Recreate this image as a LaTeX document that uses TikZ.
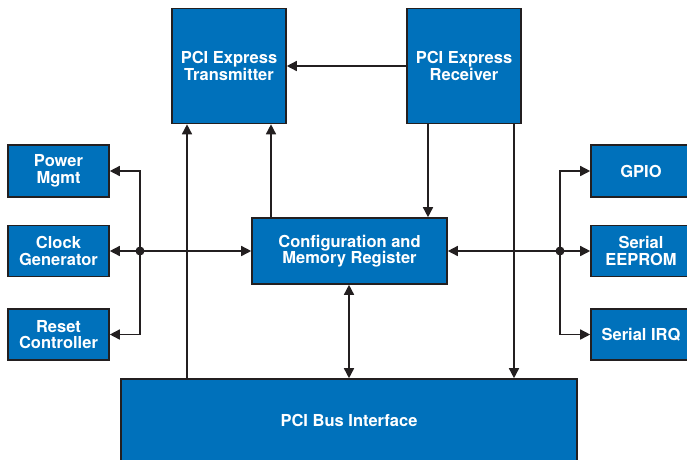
\documentclass[tikz,border=0pt]{standalone}
\usepackage{fontspec}
\setmainfont{TeX Gyre Heros}
\usetikzlibrary{arrows.meta}
\definecolor{boxblue}{HTML}{0071BB}
\definecolor{edge}{HTML}{231F20}
\tikzset{
  blk/.style={draw=edge, line width=1.6pt, fill=boxblue, text=white,
    font=\fontsize{16.5}{16.5}\selectfont\bfseries, align=center,
    inner sep=0pt},
  conn/.style={draw=edge, line width=1.5pt, -{Triangle[length=10pt,width=10pt]}},
  conn2/.style={draw=edge, line width=1.5pt, {Triangle[length=10pt,width=10pt]}-{Triangle[length=10pt,width=10pt]}},
}
\begin{document}
\begin{tikzpicture}[x=1pt,y=1pt]
\useasboundingbox (0,0) rectangle (687,-459);
\node[blk, minimum width=114pt, minimum height=115pt] (tx) at (229,-66) {PCI Express\\Transmitter};
\node[blk, minimum width=114pt, minimum height=115pt] (rx) at (464,-66) {PCI Express\\Receiver};
\node[blk, minimum width=101pt, minimum height=52pt] (pwr) at (58.5,-171) {Power\\Mgmt};
\node[blk, minimum width=101pt, minimum height=51pt] (clk) at (58.5,-251) {Clock\\Generator};
\node[blk, minimum width=101pt, minimum height=51pt] (rst) at (58.5,-334.5) {Reset\\Controller};
\node[blk, minimum width=195pt, minimum height=66pt] (cfg) at (349.5,-251) {Configuration and\\Memory Register};
\node[blk, minimum width=100pt, minimum height=52pt] (gpio) at (641,-171) {GPIO};
\node[blk, minimum width=100pt, minimum height=51pt] (eep) at (641,-251) {Serial\\EEPROM};
\node[blk, minimum width=100pt, minimum height=51pt] (irq) at (641,-334.5) {Serial IRQ};
\node[blk, minimum width=456pt, minimum height=82pt] (bus) at (349,-420) {PCI Bus Interface};
\coordinate (jl) at (140,-251);
\coordinate (jr) at (560,-251);
% connectors
\draw[conn] (rx) -- (tx);
\draw[conn] (bus.north -| 187,0) -- (tx.south -| 187,0);
\draw[conn] (cfg.north -| 271,0) -- (tx.south -| 271,0);
\draw[conn] (rx.south -| 428,0) -- (cfg.north -| 428,0);
\draw[conn] (rx.south -| 514,0) -- (bus.north -| 514,0);
\draw[conn2] (cfg.south -| 349,0) -- (bus.north -| 349,0);
\draw[conn2] (clk) -- (cfg);
\draw[conn2] (cfg) -- (eep);
\draw[conn] (jl) |- (pwr.east);
\draw[conn] (jl) |- (rst.east);
\draw[conn] (jr) |- (gpio.west);
\draw[conn] (jr) |- (irq.west);
\fill[edge] (jl) circle (4.5pt);
\fill[edge] (jr) circle (4.5pt);
\end{tikzpicture}
\end{document}
